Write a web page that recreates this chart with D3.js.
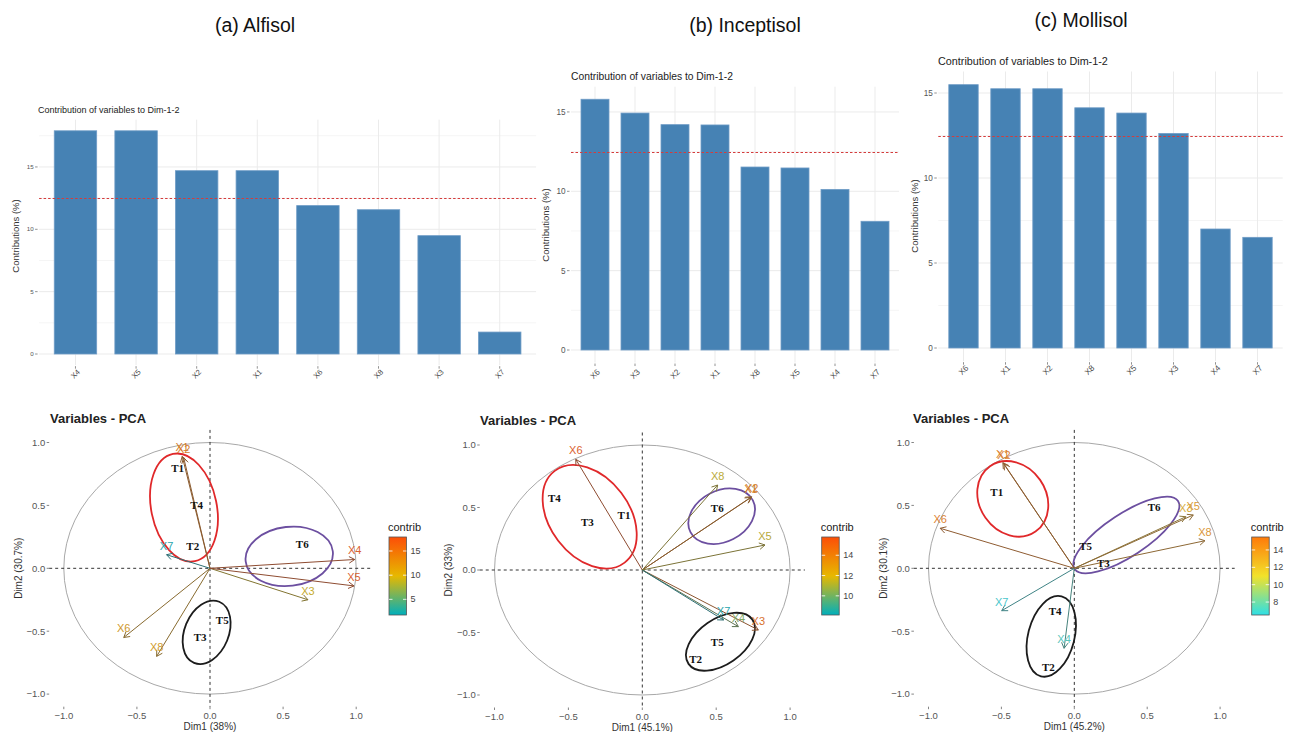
<!DOCTYPE html>
<html>
<head>
<meta charset="utf-8">
<script src="https://cdn.jsdelivr.net/npm/d3@7"></script>
<style>
  body { margin: 0; background: #fff; }
  svg { display: block; }
</style>
</head>
<body>
<svg id="fig" width="1292" height="732"></svg>
<script>
// ---------------- data ----------------
const soilTitles = ["(a) Alfisol", "(b) Inceptisol", "(c) Mollisol"];

// Contribution of variables to Dim-1-2 (%), in plotted (descending) order
const alfisolVars = ["X4", "X5", "X2", "X1", "X6", "X8", "X3", "X7"];
const alfisolContrib = [17.9, 17.9, 14.7, 14.7, 11.9, 11.57, 9.49, 1.76];
const inceptisolVars = ["X6", "X3", "X2", "X1", "X8", "X5", "X4", "X7"];
const inceptisolContrib = [15.8, 14.93, 14.2, 14.18, 11.53, 11.47, 10.12, 8.11];
const mollisolVars = ["X6", "X1", "X2", "X8", "X5", "X3", "X4", "X7"];
const mollisolContrib = [15.49, 15.25, 15.25, 14.13, 13.82, 12.62, 7.0, 6.51];
const contribTicks = [0, 5, 10, 15];
const contribMinorTicks = [2.5, 7.5, 12.5, 17.5];
const barTitle = "Contribution of variables to Dim-1-2";
const barYTitle = "Contributions (%)";

// Variable coordinates (correlation circle)
const pcaVars = ["X1", "X2", "X3", "X4", "X5", "X6", "X7", "X8"];
const alfisolDim1 = [-0.19, -0.18, 0.67, 0.99, 0.985, -0.59, -0.297, -0.365];
const alfisolDim2 = [0.89, 0.88, -0.25, 0.07, -0.14, -0.55, 0.108, -0.70];
const inceptisolDim1 = [0.735, 0.74, 0.785, 0.65, 0.83, -0.45, 0.55, 0.51];
const inceptisolDim2 = [0.58, 0.586, -0.48, -0.453, 0.2, 0.885, -0.40, 0.68];
const mollisolDim1 = [-0.49, -0.482, 0.765, -0.07, 0.816, -0.92, -0.498, 0.896];
const mollisolDim2 = [0.84, 0.83, 0.41, -0.636, 0.424, 0.318, -0.337, 0.219];

const dim1Titles = ["Dim1 (38%)", "Dim1 (45.1%)", "Dim1 (45.2%)"];
const dim2Titles = ["Dim2 (30.7%)", "Dim2 (33%)", "Dim2 (30.1%)"];
const pcaTicks = [-1, -0.5, 0, 0.5, 1];
const pcaTitle = "Variables - PCA";
const legendTitle = "contrib";
const alfisolLegendTicks = [5, 10, 15];
const inceptisolLegendTicks = [10, 12, 14];
const mollisolLegendTicks = [8, 10, 12, 14];

// Treatment labels
const alfisolTreat = ["T1", "T4", "T2", "T6", "T5", "T3"];
const alfisolTreatDim1 = [-0.221, -0.091, -0.118, 0.631, 0.084, -0.068];
const alfisolTreatDim2 = [0.80, 0.503, 0.18, 0.188, -0.411, -0.548];
const inceptisolTreat = ["T4", "T3", "T1", "T6", "T5", "T2"];
const inceptisolTreatDim1 = [-0.595, -0.372, -0.124, 0.507, 0.507, 0.361];
const inceptisolTreatDim2 = [0.574, 0.382, 0.44, 0.494, -0.574, -0.712];
const mollisolTreat = ["T1", "T6", "T5", "T3", "T4", "T2"];
const mollisolTreatDim1 = [-0.532, 0.547, 0.078, 0.199, -0.132, -0.178];
const mollisolTreatDim2 = [0.604, 0.485, 0.18, 0.04, -0.337, -0.787];

// Treatment groupings (ellipses): centre, semi-axes, tilt in degrees
const groupNames = ["red", "purple", "black"];
const alfisolGroupDim1 = [-0.178, 0.542, -0.023];
const alfisolGroupDim2 = [0.483, 0.095, -0.509];
const alfisolGroupRx = [0.224, 0.300, 0.151];
const alfisolGroupRy = [0.374, 0.202, 0.226];
const alfisolGroupTilt = [-11.6, -6.7, 22.4];
const inceptisolGroupDim1 = [-0.356, 0.537, 0.529];
const inceptisolGroupDim2 = [0.426, 0.430, -0.574];
const inceptisolGroupRx = [0.39, 0.237, 0.263];
const inceptisolGroupRy = [0.268, 0.173, 0.154];
const inceptisolGroupTilt = [52.7, -27, -34.7];
const mollisolGroupDim1 = [-0.422, 0.357, -0.158];
const mollisolGroupDim2 = [0.552, 0.265, -0.541];
const mollisolGroupRx = [0.228, 0.424, 0.159];
const mollisolGroupRy = [0.273, 0.145, 0.283];
const mollisolGroupTilt = [-34.8, -33.3, 14.5];

// ---------------- styling / layout ----------------
const SANS = "'Liberation Sans', Arial, Helvetica, sans-serif";
const SERIF = "'Liberation Serif', 'Times New Roman', serif";
const BAR_FILL = "#4682B4";
const GRID = "#EBEBEB";
const TICK_TEXT = "#555";
const AVG_LINE = "#d43c3c";
const groupColors = { red: "#e0282a", purple: "#6c4fa0", black: "#1c1c1c" };
const paletteStd = ["#00AFBB", "#E7B800", "#FC4E07"];
const paletteBright = ["#2EDFE6", "#F2E22A", "#FF7A0A"];

const soils = [
  {
    title: soilTitles[0], header: { x: 255, y: 32 },
    vars: alfisolVars, contrib: alfisolContrib,
    bar: { left: 39.1, right: 536.1, zeroY: 354, ppu: 12.47, titleX: 38, titleY: 113, titleSize: 9,
           tickSize: 6.2, xLabSize: 7.5, xLabY: 374, yTitleX: 19, yTitleY: 236, yTitleSize: 9.5 },
    dim1: alfisolDim1, dim2: alfisolDim2,
    treat: alfisolTreat, treatX: alfisolTreatDim1, treatY: alfisolTreatDim2,
    gx: alfisolGroupDim1, gy: alfisolGroupDim2, grx: alfisolGroupRx, gry: alfisolGroupRy, gt: alfisolGroupTilt,
    legendTicks: alfisolLegendTicks, palette: paletteStd,
    pca: { ox: 210, ux: 146.2, oy: 568.3, uy: 125.8, titleX: 50, titleY: 423, yTitleX: 22, legX: 389 }
  },
  {
    title: soilTitles[1], header: { x: 745, y: 32 },
    vars: inceptisolVars, contrib: inceptisolContrib,
    bar: { left: 571, right: 899, zeroY: 350, ppu: 15.87, titleX: 571, titleY: 80, titleSize: 10.3,
           tickSize: 8.2, xLabSize: 8.2, xLabY: 374, yTitleX: 549, yTitleY: 225, yTitleSize: 9.5 },
    dim1: inceptisolDim1, dim2: inceptisolDim2,
    treat: inceptisolTreat, treatX: inceptisolTreatDim1, treatY: inceptisolTreatDim2,
    gx: inceptisolGroupDim1, gy: inceptisolGroupDim2, grx: inceptisolGroupRx, gry: inceptisolGroupRy, gt: inceptisolGroupTilt,
    legendTicks: inceptisolLegendTicks, palette: paletteStd,
    pca: { ox: 642.3, ux: 147.8, oy: 570, uy: 125, titleX: 480, titleY: 425, yTitleX: 452, legX: 821.7 }
  },
  {
    title: soilTitles[2], header: { x: 1081, y: 27 },
    vars: mollisolVars, contrib: mollisolContrib,
    bar: { left: 938.3, right: 1282.7, zeroY: 348, ppu: 17, titleX: 938, titleY: 64.5, titleSize: 10.8,
           tickSize: 8.2, xLabSize: 8.2, xLabY: 370, yTitleX: 918, yTitleY: 216, yTitleSize: 9.5 },
    dim1: mollisolDim1, dim2: mollisolDim2,
    treat: mollisolTreat, treatX: mollisolTreatDim1, treatY: mollisolTreatDim2,
    gx: mollisolGroupDim1, gy: mollisolGroupDim2, grx: mollisolGroupRx, gry: mollisolGroupRy, gt: mollisolGroupTilt,
    legendTicks: mollisolLegendTicks, palette: paletteBright,
    pca: { ox: 1074.3, ux: 145.8, oy: 568.3, uy: 125.8, titleX: 913, titleY: 423, yTitleX: 887, legX: 1251.7 }
  }
];

const svg = d3.select("#fig");

// ---------------- panel headers ----------------
svg.selectAll("text.header").data(soils).join("text")
  .attr("class", "header")
  .attr("x", d => d.header.x).attr("y", d => d.header.y)
  .attr("text-anchor", "middle")
  .attr("font-family", SANS).attr("font-size", 19.5).attr("fill", "#111")
  .text(d => d.title);

// ---------------- contribution bar charts ----------------
function drawBars(s) {
  const L = s.bar;
  const g = svg.append("g");
  const maxV = d3.max(s.contrib);
  const y = d3.scaleLinear().domain([0, 1]).range([L.zeroY, L.zeroY - L.ppu]);
  const top = y(maxV * 1.05), bottom = y(-maxV * 0.05);
  const x = d3.scalePoint().domain(s.vars).range([L.left, L.right]).padding(0.6);
  const bw = x.step() * 0.7;

  // grid
  g.selectAll("line.minor").data(contribMinorTicks.filter(v => y(v) > top)).join("line")
    .attr("class", "minor")
    .attr("x1", L.left).attr("x2", L.right)
    .attr("y1", d => y(d)).attr("y2", d => y(d))
    .attr("stroke", "#F3F3F3").attr("stroke-width", 0.8);
  g.selectAll("line.major").data(contribTicks.filter(v => y(v) > top)).join("line")
    .attr("class", "major")
    .attr("x1", L.left).attr("x2", L.right)
    .attr("y1", d => y(d)).attr("y2", d => y(d))
    .attr("stroke", GRID).attr("stroke-width", 1);
  g.selectAll("line.vgrid").data(s.vars).join("line")
    .attr("class", "vgrid")
    .attr("x1", d => x(d)).attr("x2", d => x(d))
    .attr("y1", top).attr("y2", bottom)
    .attr("stroke", GRID).attr("stroke-width", 1);

  // bars
  g.selectAll("rect.bar").data(s.vars).join("rect")
    .attr("class", "bar")
    .attr("x", d => x(d) - bw / 2)
    .attr("width", bw)
    .attr("y", (d, i) => y(s.contrib[i]))
    .attr("height", (d, i) => y(0) - y(s.contrib[i]))
    .attr("fill", BAR_FILL).attr("stroke", "#6f9cc6").attr("stroke-width", 0.8);

  // expected average contribution
  const avg = 100 / s.vars.length;
  g.append("line")
    .attr("class", "avg")
    .attr("x1", L.left).attr("x2", L.right)
    .attr("y1", Math.round(y(avg)) + 0.5).attr("y2", Math.round(y(avg)) + 0.5)
    .attr("stroke", AVG_LINE).attr("stroke-width", 1.2).attr("stroke-dasharray", "2.5,2");

  // y axis
  const yt = contribTicks.filter(v => y(v) > top);
  g.selectAll("line.ytick").data(yt).join("line")
    .attr("class", "ytick")
    .attr("x1", L.left - 4).attr("x2", L.left - 1.5)
    .attr("y1", d => y(d)).attr("y2", d => y(d))
    .attr("stroke", "#777").attr("stroke-width", 0.8);
  g.selectAll("text.ytick").data(yt).join("text")
    .attr("class", "ytick")
    .attr("x", L.left - 5.5).attr("y", d => y(d))
    .attr("dy", "0.35em").attr("text-anchor", "end")
    .attr("font-family", SANS).attr("font-size", L.tickSize).attr("fill", TICK_TEXT)
    .text(d => d);

  // x axis
  g.selectAll("line.xtick").data(s.vars).join("line")
    .attr("class", "xtick")
    .attr("x1", d => x(d)).attr("x2", d => x(d))
    .attr("y1", bottom + 1).attr("y2", bottom + 3.5)
    .attr("stroke", "#777").attr("stroke-width", 0.8);
  g.selectAll("text.xtick").data(s.vars).join("text")
    .attr("class", "xtick")
    .attr("transform", d => `translate(${x(d)},${L.xLabY}) rotate(-45)`)
    .attr("dy", "0.35em").attr("text-anchor", "middle")
    .attr("font-family", SANS).attr("font-size", L.xLabSize).attr("fill", "#4a4a4a")
    .text(d => d);

  // titles
  g.append("text")
    .attr("x", L.titleX).attr("y", L.titleY)
    .attr("font-family", SANS).attr("font-size", L.titleSize).attr("fill", "#222")
    .text(barTitle);
  g.append("text")
    .attr("transform", `translate(${L.yTitleX},${L.yTitleY}) rotate(-90)`)
    .attr("text-anchor", "middle")
    .attr("font-family", SANS).attr("font-size", L.yTitleSize).attr("fill", "#333")
    .text(barYTitle);
}

// ---------------- correlation circles ----------------
function drawPca(s, idx) {
  const P = s.pca;
  const g = svg.append("g");
  const x = d3.scaleLinear().domain([0, 1]).range([P.ox, P.ox + P.ux]);
  const y = d3.scaleLinear().domain([0, 1]).range([P.oy, P.oy - P.uy]);
  const lim = 1.1;
  const x0 = x(-lim), x1 = x(lim), yTop = y(lim), yBot = y(-lim);

  const contribOf = {};
  s.vars.forEach((v, i) => { contribOf[v] = s.contrib[i]; });
  const cmin = d3.min(s.contrib), cmax = d3.max(s.contrib);
  const color = d3.scaleLinear().domain([cmin, (cmin + cmax) / 2, cmax]).range(s.palette)
    .interpolate(d3.interpolateRgb);

  // unit circle
  g.append("ellipse")
    .attr("cx", x(0)).attr("cy", y(0))
    .attr("rx", x(1) - x(0)).attr("ry", y(0) - y(1))
    .attr("fill", "none").attr("stroke", "#a8a8a8").attr("stroke-width", 1);

  // reference axes
  g.append("line").attr("x1", x0).attr("x2", x1).attr("y1", y(0)).attr("y2", y(0))
    .attr("stroke", "#333").attr("stroke-width", 1).attr("stroke-dasharray", "3,3");
  g.append("line").attr("x1", x(0)).attr("x2", x(0)).attr("y1", yTop).attr("y2", yBot)
    .attr("stroke", "#333").attr("stroke-width", 1).attr("stroke-dasharray", "3,3");

  // treatment groupings
  groupNames.forEach((name, i) => {
    const cx = x(s.gx[i]), cy = y(s.gy[i]);
    g.append("ellipse")
      .attr("cx", cx).attr("cy", cy)
      .attr("rx", x(s.grx[i]) - x(0)).attr("ry", x(s.gry[i]) - x(0))
      .attr("transform", `rotate(${s.gt[i]} ${cx} ${cy})`)
      .attr("fill", "none").attr("stroke", groupColors[name]).attr("stroke-width", 1.8);
  });

  // variable arrows
  pcaVars.forEach((v, i) => {
    const c = color(contribOf[v]);
    const lineCol = d3.interpolateRgb(c, "#4a4a4a")(0.62);
    const labCol = d3.interpolateRgb(c, "#8c8c8c")(0.3);
    const tx = x(s.dim1[i]), ty = y(s.dim2[i]);
    const sx = x(0), sy = y(0);
    const ang = Math.atan2(ty - sy, tx - sx);
    const hl = 6.5, ha = Math.PI / 6;
    const p1 = [tx - hl * Math.cos(ang - ha), ty - hl * Math.sin(ang - ha)];
    const p2 = [tx - hl * Math.cos(ang + ha), ty - hl * Math.sin(ang + ha)];
    g.append("line").attr("x1", sx).attr("y1", sy).attr("x2", tx).attr("y2", ty)
      .attr("stroke", lineCol).attr("stroke-width", 1);
    g.append("path")
      .attr("d", `M${p1[0]},${p1[1]}L${tx},${ty}L${p2[0]},${p2[1]}`)
      .attr("fill", "none").attr("stroke", lineCol).attr("stroke-width", 1);
    g.append("text")
      .attr("x", tx).attr("y", ty - 5)
      .attr("text-anchor", "middle")
      .attr("font-family", SANS).attr("font-size", 11).attr("fill", labCol)
      .text(v);
  });

  // treatment labels
  s.treat.forEach((t, i) => {
    g.append("text")
      .attr("x", x(s.treatX[i])).attr("y", y(s.treatY[i]))
      .attr("dy", "0.35em").attr("text-anchor", "middle")
      .attr("font-family", SERIF).attr("font-weight", "bold").attr("font-size", 11).attr("fill", "#111")
      .text(t);
  });

  // axes ticks and labels
  pcaTicks.forEach(t => {
    g.append("line").attr("x1", x(t)).attr("x2", x(t)).attr("y1", yBot).attr("y2", yBot + 2.5)
      .attr("stroke", "#666").attr("stroke-width", 0.8);
    g.append("text").attr("x", x(t)).attr("y", yBot + 12)
      .attr("text-anchor", "middle")
      .attr("font-family", SANS).attr("font-size", 9.5).attr("fill", TICK_TEXT)
      .text(d3.format(".1f")(t));
    g.append("line").attr("x1", x0 - 2.5).attr("x2", x0).attr("y1", y(t)).attr("y2", y(t))
      .attr("stroke", "#666").attr("stroke-width", 0.8);
    g.append("text").attr("x", x0 - 4).attr("y", y(t)).attr("dy", "0.35em")
      .attr("text-anchor", "end")
      .attr("font-family", SANS).attr("font-size", 9.5).attr("fill", TICK_TEXT)
      .text(d3.format(".1f")(t));
  });

  g.append("text").attr("x", x(0)).attr("y", yBot + 23)
    .attr("text-anchor", "middle")
    .attr("font-family", SANS).attr("font-size", 10).attr("fill", "#333")
    .text(dim1Titles[idx]);
  g.append("text")
    .attr("transform", `translate(${P.yTitleX},${y(0)}) rotate(-90)`)
    .attr("text-anchor", "middle")
    .attr("font-family", SANS).attr("font-size", 10).attr("fill", "#333")
    .text(dim2Titles[idx]);
  g.append("text").attr("x", P.titleX).attr("y", P.titleY)
    .attr("font-family", SANS).attr("font-weight", "bold").attr("font-size", 13).attr("fill", "#222")
    .text(pcaTitle);

  // colour legend
  const legTop = 537, legBot = 615, legW = 17.5;
  const ly = d3.scaleLinear().domain([cmin, cmax]).range([legBot, legTop]);
  const gradId = "grad" + idx;
  const grad = svg.append("defs").append("linearGradient")
    .attr("id", gradId).attr("x1", 0).attr("y1", 1).attr("x2", 0).attr("y2", 0);
  d3.range(0, 1.0001, 0.1).forEach(f => {
    grad.append("stop").attr("offset", f).attr("stop-color", color(cmin + f * (cmax - cmin)));
  });
  g.append("text").attr("x", P.legX - 1).attr("y", legTop - 6)
    .attr("font-family", SANS).attr("font-size", 11).attr("fill", "#222")
    .text(legendTitle);
  g.append("rect").attr("x", P.legX).attr("y", legTop).attr("width", legW).attr("height", legBot - legTop)
    .attr("fill", `url(#${gradId})`).attr("stroke", "#555").attr("stroke-width", 0.8);
  s.legendTicks.forEach(t => {
    g.append("line").attr("x1", P.legX).attr("x2", P.legX + 3.5).attr("y1", ly(t)).attr("y2", ly(t))
      .attr("stroke", "#fff").attr("stroke-width", 0.8);
    g.append("line").attr("x1", P.legX + legW - 3.5).attr("x2", P.legX + legW).attr("y1", ly(t)).attr("y2", ly(t))
      .attr("stroke", "#fff").attr("stroke-width", 0.8);
    g.append("text").attr("x", P.legX + legW + 4).attr("y", ly(t)).attr("dy", "0.35em")
      .attr("font-family", SANS).attr("font-size", 9).attr("fill", "#444")
      .text(t);
  });
}

soils.forEach((s, i) => { drawBars(s); drawPca(s, i); });
</script>
</body>
</html>
